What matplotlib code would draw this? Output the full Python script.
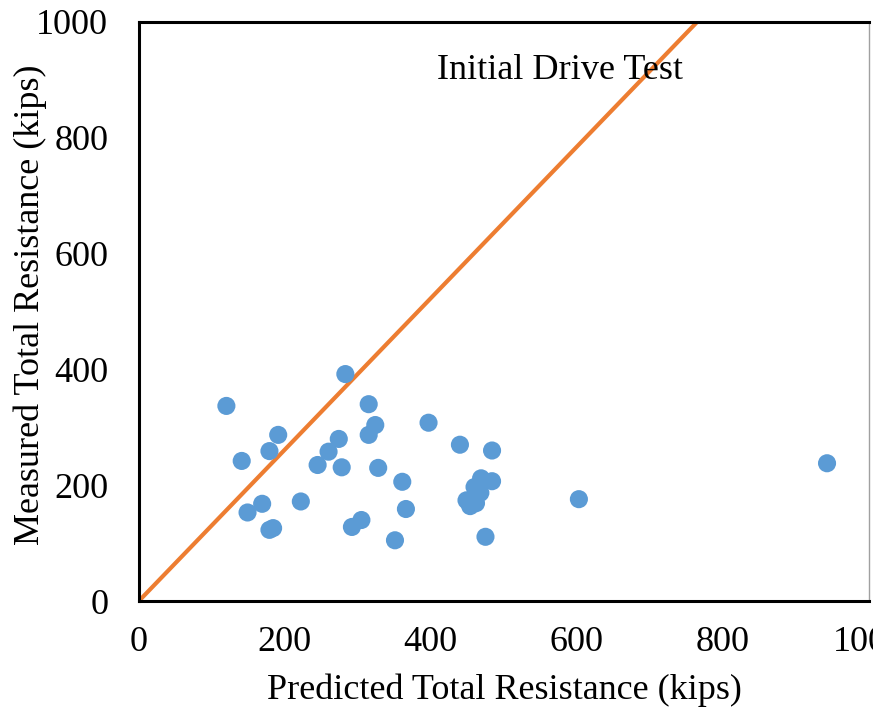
import numpy as np
import matplotlib.pyplot as plt

# Predicted vs measured total resistance (kips), initial drive test
predicted = [283, 120, 315, 191, 324, 315, 397, 274, 179, 141, 260, 440, 484,
             245, 278, 328, 361, 469, 484, 460, 468, 449, 462, 454, 169, 149,
             222, 184, 179, 305, 292, 366, 351, 475, 603, 943]
measured = [392, 337, 340, 287, 304, 287, 308, 280, 259, 242, 258, 270, 260,
            235, 231, 230, 206, 212, 207, 197, 187, 174, 169, 164, 168, 153,
            172, 126, 123, 140, 128, 159, 105, 111, 176, 238]

# reference line
line_x = [0, 765]
line_y = [0, 1000]

plt.rcParams['font.family'] = ['Liberation Serif', 'DejaVu Serif']

fig = plt.figure(figsize=(8.73, 7.08), dpi=100)
ax = fig.add_axes([0.159, 0.151, 0.836, 0.818])

ax.plot(line_x, line_y, color='#ED7D31', linewidth=3, zorder=2)
ax.scatter(predicted, measured, s=170, color='#5B9BD5', edgecolors='none', zorder=3)

ax.set_xlim(0, 1000)
ax.set_ylim(0, 1000)
ax.set_xticks([0, 200, 400, 600, 800, 1000])
ax.set_yticks([0, 200, 400, 600, 800, 1000])
ax.tick_params(length=0, labelsize=26)
ax.tick_params(axis='y', pad=22)
ax.tick_params(axis='x', pad=18)

for side in ['left', 'bottom', 'top']:
    ax.spines[side].set_linewidth(2.2)
    ax.spines[side].set_color('black')
ax.spines['right'].set_linewidth(1)
ax.spines['right'].set_color('#A0A0A0')

# axis titles placed in figure coords
fig.text(504 / 873, 1 - 690 / 708, 'Predicted Total Resistance (kips)',
         fontsize=26, ha='center', va='center')
fig.text(30 / 873, 1 - 305 / 708, 'Measured Total Resistance (kips)',
         fontsize=26, ha='center', va='center', rotation=90)

ax.text(409, 917, 'Initial Drive Test', fontsize=26, ha='left', va='center')

fig.savefig('out.png', dpi=100)
